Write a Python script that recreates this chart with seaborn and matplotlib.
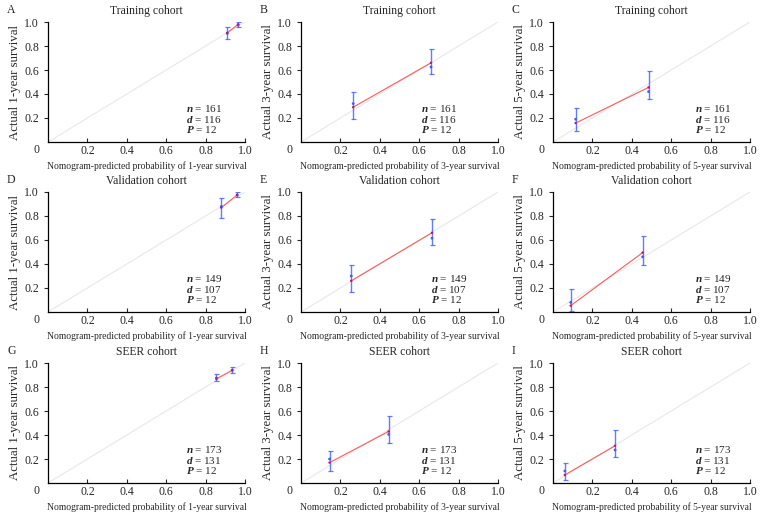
import matplotlib
matplotlib.use("Agg")
import matplotlib.pyplot as plt
import seaborn as sns
import pandas as pd

# panel order: A B C / D E F / G H I
letters = ["A", "B", "C", "D", "E", "F", "G", "H", "I"]
cohorts = ["Training cohort"] * 3 + ["Validation cohort"] * 3 + ["SEER cohort"] * 3
years = [1, 3, 5] * 3
n_vals = [161] * 3 + [149] * 3 + [173] * 3
d_vals = [116] * 3 + [107] * 3 + [131] * 3
p_vals = [12] * 9

# nomogram-predicted probability (x), observed (red line), corrected estimate (blue dot), CI
pred = [[0.91, 0.965], [0.265, 0.66], [0.115, 0.485],
        [0.88, 0.96], [0.255, 0.665], [0.09, 0.455],
        [0.855, 0.935], [0.145, 0.445], [0.06, 0.315]]
observed = [[0.91, 0.98], [0.29, 0.66], [0.158, 0.455],
            [0.87, 0.975], [0.26, 0.66], [0.053, 0.495],
            [0.868, 0.94], [0.17, 0.43], [0.067, 0.31]]
corrected = [[0.905, 0.975], [0.32, 0.625], [0.19, 0.42],
             [0.88, 0.975], [0.30, 0.615], [0.08, 0.46],
             [0.875, 0.94], [0.20, 0.405], [0.10, 0.275]]
ci_low = [[0.855, 0.955], [0.195, 0.565], [0.09, 0.355],
          [0.785, 0.955], [0.17, 0.555], [0.01, 0.39],
          [0.85, 0.92], [0.10, 0.33], [0.025, 0.215]]
ci_high = [[0.955, 1.0], [0.415, 0.775], [0.28, 0.59],
           [0.95, 1.0], [0.39, 0.775], [0.19, 0.635],
           [0.905, 0.965], [0.27, 0.555], [0.17, 0.445]]
ticks = [0.2, 0.4, 0.6, 0.8, 1.0]
tick_labels = ["0.2", "0.4", "0.6", "0.8", "1.0"]

sns.set_theme(style="ticks")
plt.rcParams["font.family"] = ["Liberation Serif", "DejaVu Serif"]
plt.rcParams["mathtext.fontset"] = "custom"
plt.rcParams["mathtext.rm"] = "Liberation Serif"
plt.rcParams["mathtext.it"] = "Liberation Serif:italic"
plt.rcParams["mathtext.bf"] = "Liberation Serif:bold"
plt.rcParams["mathtext.bfit"] = "Liberation Serif:italic:bold"

W, H = 762, 514
fig = plt.figure(figsize=(W / 100, H / 100), dpi=100)

col_left = [48, 301, 553]
row_top = [22, 192, 363]
ax_w, ax_h = 197, 120
text_x = [0.70, 0.61, 0.72, 0.70, 0.66, 0.72, 0.70, 0.61, 0.72]

red = "#ff5a5a"
blue = "#3a5cff"

for i in range(9):
    r, c = divmod(i, 3)
    ax = fig.add_axes([col_left[c] / W, 1 - (row_top[r] + ax_h) / H, ax_w / W, ax_h / H])

    ax.plot([0, 1], [0, 1], color="#e8e8e8", lw=0.8, zorder=1)

    df = pd.DataFrame({"pred": pred[i], "obs": observed[i], "est": corrected[i],
                       "lo": ci_low[i], "hi": ci_high[i]})
    sns.lineplot(data=df, x="pred", y="obs", ax=ax, color=red, lw=0.8, zorder=3)
    ax.errorbar(df["pred"], df["est"], yerr=[df["est"] - df["lo"], df["hi"] - df["est"]],
                fmt="none", ecolor=blue, elinewidth=1.0, capsize=1.8, capthick=0.9,
                alpha=0.8, zorder=2)
    sns.scatterplot(data=df, x="pred", y="est", ax=ax, color=blue, s=4,
                    edgecolor="none", zorder=4)
    sns.scatterplot(data=df, x="pred", y="obs", ax=ax, color="#c01070", s=3,
                    edgecolor="none", zorder=5)

    ax.set_xlim(0, 1.0)
    ax.set_ylim(0, 1.0)
    ax.set_xticks(ticks)
    ax.set_xticklabels(tick_labels)
    ax.set_yticks(ticks)
    ax.set_yticklabels(tick_labels)
    ax.tick_params(axis="x", direction="in", length=3, width=0.8, labelsize=8.5, pad=2)
    ax.tick_params(axis="y", direction="out", length=3, width=0.8, labelsize=8.5, pad=3.5)
    sns.despine(ax=ax)
    for s in ["left", "bottom"]:
        ax.spines[s].set_linewidth(0.9)
        ax.spines[s].set_color("black")

    ax.text(-0.045, -0.02, "0", transform=ax.transAxes, ha="right", va="top", fontsize=8.5)
    ax.set_xlabel(f"Nomogram-predicted probability of {years[i]}-year survival",
                  fontsize=6.9, labelpad=3)
    ax.set_ylabel(f"Actual {years[i]}-year survival", fontsize=9.3, labelpad=2)
    ax.set_title(cohorts[i], fontsize=8.4, pad=6)

    stats = (r"$\mathbfit{n}$" + f" = {n_vals[i]}\n"
             + r"$\mathbfit{d}$" + f" = {d_vals[i]}\n"
             + r"$\mathbfit{P}$" + f" = {p_vals[i]}")
    ax.text(text_x[i], 0.19, stats, transform=ax.transAxes, fontsize=8.0,
            va="center", linespacing=0.95)

    fig.text((col_left[c] - 41) / W, 1 - (row_top[r] - 12) / H, letters[i],
             fontsize=8.5, ha="left", va="center")

fig.savefig("out.png", dpi=100)
